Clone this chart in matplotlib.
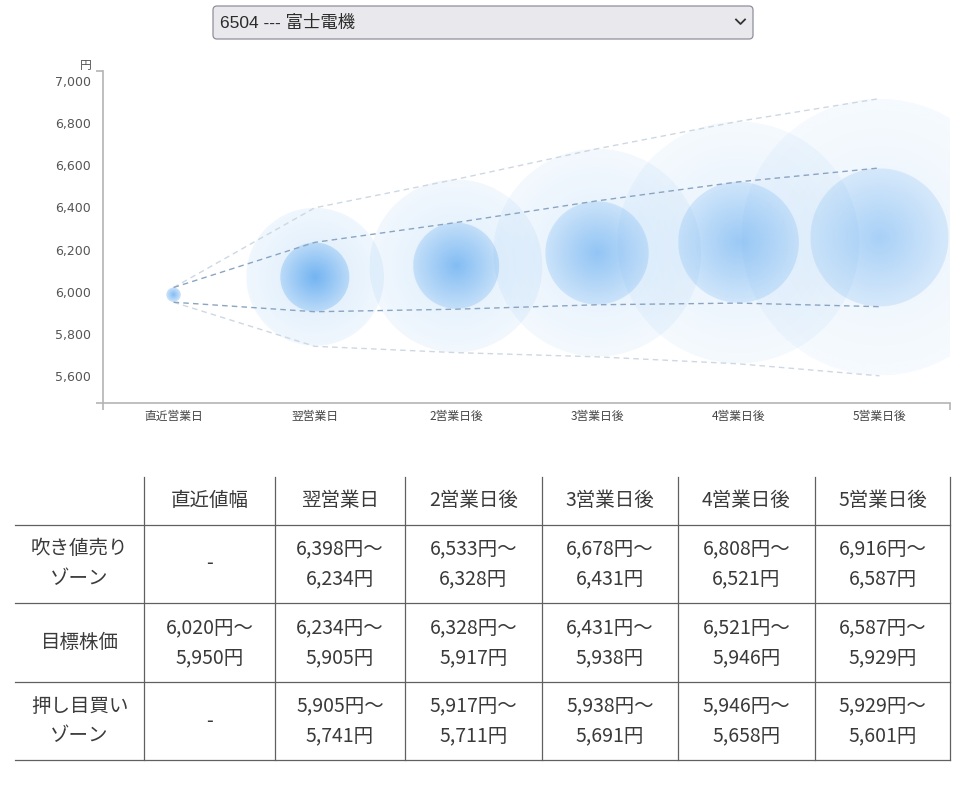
import numpy as np
import matplotlib
matplotlib.use('Agg')
import matplotlib.pyplot as plt
from matplotlib.patches import Ellipse, FancyBboxPatch
from matplotlib.lines import Line2D

stock_label = '6504 --- 富士電機'
days = ['直近営業日', '翌営業日', '2営業日後', '3営業日後', '4営業日後', '5営業日後']
col_heads = ['', '直近値幅', '翌営業日', '2営業日後', '3営業日後', '4営業日後', '5営業日後']
row_heads = [['吹き値売り', 'ゾーン'], ['目標株価'], ['押し目買い', 'ゾーン']]

sell_hi = [None, 6398, 6533, 6678, 6808, 6916]
sell_lo = [None, 6234, 6328, 6431, 6521, 6587]
tgt_hi = [6020, 6234, 6328, 6431, 6521, 6587]
tgt_lo = [5950, 5905, 5917, 5938, 5946, 5929]
buy_hi = [None, 5905, 5917, 5938, 5946, 5929]
buy_lo = [None, 5741, 5711, 5691, 5658, 5601]

yticks = [5600, 5800, 6000, 6200, 6400, 6600, 6800, 7000]
ylim = (5472, 7047)

W, H = 968, 796
fig = plt.figure(figsize=(W / 100, H / 100), dpi=100)

# background axes in pixel coords for the dropdown + table
bg = fig.add_axes([0, 0, 1, 1])
bg.set_xlim(0, W)
bg.set_ylim(H, 0)
bg.axis('off')

jp = ['Noto Sans CJK JP', 'DejaVu Sans']
txtc = '#3a3a3a'

# dropdown
box = FancyBboxPatch((213, 6), 540, 33, boxstyle='round,pad=0,rounding_size=4',
                     fc='#e9e9ed', ec='#8f8f9d', lw=0.9)
bg.add_patch(box)
bg.text(220, 22.5, stock_label, fontsize=12.5, color='#2b2b2b', va='center', ha='left',
        family=['Liberation Sans', 'Noto Sans CJK JP'])
bg.add_line(Line2D([736, 740.5, 745], [19.5, 24, 19.5], color='#333333', lw=1.3))

# ---- chart ----
ax = fig.add_axes([103 / W, 1 - 403 / H, 847 / W, 332 / H])
ax.set_xlim(-0.5, 5.5)
ax.set_ylim(*ylim)

px_y = 332 / (ylim[1] - ylim[0])   # pixels per yen
px_x = 847 / 6.0                   # pixels per category
blue = np.array([40, 140, 235]) / 255.0


def bubble(x, y, r, a_c, a_e, z):
    rx = r * px_y / px_x
    n = 300
    u = np.linspace(-1, 1, n)
    uu, vv = np.meshgrid(u, u)
    d = np.sqrt(uu ** 2 + vv ** 2)
    img = np.zeros((n, n, 4))
    img[..., :3] = blue
    img[..., 3] = np.where(d <= 1.0, a_c + (a_e - a_c) * np.clip(d, 0, 1), 0)
    im = ax.imshow(img, extent=(x - rx, x + rx, y - r, y + r), origin='lower',
                   interpolation='bilinear', aspect='auto', zorder=z)
    clip = Ellipse((x, y), 2 * rx, 2 * r, transform=ax.transData)
    im.set_clip_path(clip)


fade_out = [1.0, 1.0, 0.9, 0.8, 0.7, 0.6]
fade_in = [1.0, 1.0, 0.86, 0.74, 0.68, 0.58]
for i in range(1, 6):
    c = (tgt_hi[i] + tgt_lo[i]) / 2
    bubble(i, c, (sell_hi[i] - buy_lo[i]) / 2, 0.17 * fade_out[i], 0.07 * fade_out[i], 1)
for i in range(6):
    c = (tgt_hi[i] + tgt_lo[i]) / 2
    bubble(i, c, (tgt_hi[i] - tgt_lo[i]) / 2, 0.58 * fade_in[i], 0.22 * fade_in[i], 2)

x = np.arange(6)
outer_hi = [tgt_hi[0]] + sell_hi[1:]
outer_lo = [tgt_lo[0]] + buy_lo[1:]
ax.plot(x, outer_hi, color='#cdd8e3', lw=1.0, ls=(0, (4, 3)), zorder=3)
ax.plot(x, outer_lo, color='#cdd8e3', lw=1.0, ls=(0, (4, 3)), zorder=3)
ax.plot(x, tgt_hi, color='#8aa5c2', lw=1.0, ls=(0, (4, 3)), zorder=3)
ax.plot(x, tgt_lo, color='#8aa5c2', lw=1.0, ls=(0, (4, 3)), zorder=3)

ax.set_xlim(-0.5, 5.5)
ax.set_ylim(*ylim)

for s in ['top', 'right']:
    ax.spines[s].set_visible(False)
for s in ['left', 'bottom']:
    ax.spines[s].set_color('#b4b4b4')
    ax.spines[s].set_linewidth(1.2)

ax.set_yticks(yticks)
ax.set_yticklabels([f'{v:,}' for v in yticks])
ax.set_xticks(x)
ax.set_xticklabels(days, family=jp)
ax.tick_params(axis='y', length=0, pad=8.5, labelsize=9, labelcolor='#555555')
ax.tick_params(axis='x', length=0, pad=5, labelsize=8.5, labelcolor='#444444')
ax.set_yticks([ylim[0], ylim[1]], minor=True)
ax.set_xticks([-0.5, 5.5], minor=True)
ax.tick_params(which='minor', length=5, width=1.2, color='#b4b4b4')
ax.text(-17 / 847, 1 + 6 / 332, '円', transform=ax.transAxes, ha='center', va='center',
        fontsize=8.5, color='#555555', family=jp)

# ---- table ----
col_x = [15, 144, 275, 405, 542, 678, 815, 950]
row_y = [477, 525, 603, 682, 760]
lc = '#606060'
for xv in col_x[1:]:
    bg.add_line(Line2D([xv, xv], [row_y[0], row_y[-1]], color=lc, lw=0.9))
for yv in row_y[1:]:
    bg.add_line(Line2D([col_x[0], col_x[-1]], [yv, yv], color=lc, lw=0.9))


def cell(ci, ri, lines):
    cx = (col_x[ci] + col_x[ci + 1]) / 2
    cy = (row_y[ri] + row_y[ri + 1]) / 2
    n = len(lines)
    for k, t in enumerate(lines):
        yy = cy + (k - (n - 1) / 2) * 30
        bg.text(cx, yy, t, ha='center', va='center', fontsize=14, color=txtc, family=jp)


for ci, h in enumerate(col_heads):
    if h:
        cell(ci, 0, [h])

rows = [(sell_hi, sell_lo), (tgt_hi, tgt_lo), (buy_hi, buy_lo)]
for ri, (hi, lo) in enumerate(rows):
    cell(0, ri + 1, row_heads[ri])
    for j in range(6):
        if hi[j] is None:
            cell(j + 1, ri + 1, ['-'])
        else:
            cell(j + 1, ri + 1, [f'{hi[j]:,}円～', f'{lo[j]:,}円'])

fig.savefig('out.png', dpi=100)
